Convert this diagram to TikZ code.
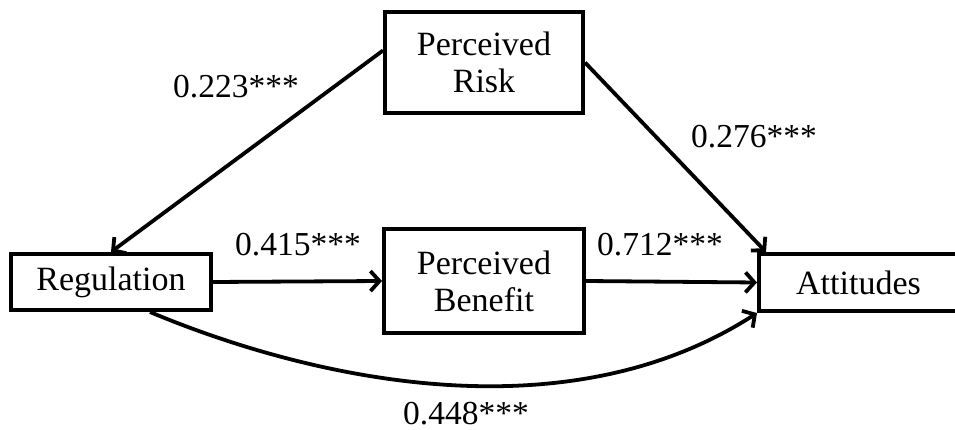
\documentclass[tikz,border=0pt]{standalone}
\usepackage{fontspec}
\setmainfont{Liberation Serif}
\usepackage{tikz}
\usetikzlibrary{arrows.meta}

\begin{document}
\begin{tikzpicture}[x=1pt,y=-1pt,
		box/.style={draw,line width=4pt,inner sep=0pt,align=center,font=\fontsize{34}{37}\selectfont},
		coef/.style={anchor=base,inner sep=0pt,font=\fontsize{33.5}{37}\selectfont},
		path/.style={line width=3.8pt,-{Straight Barb[length=9pt,width=20pt]}}]
			\useasboundingbox (0,0) rectangle (955,430);

				% variables
				\node[box,minimum width=200pt,minimum height=56pt] (reg) at(111,282){Regulation};
				\node[box,minimum width=198pt,minimum height=101pt] (risk) at(484,62.5){Perceived\\Risk};
				\node[box,minimum width=200pt,minimum height=103pt] (ben) at(484,281){Perceived\\Benefit};
				\node[box,minimum width=199pt,minimum height=57pt] (att) at(858.5,282.5){Attitudes};

				% paths
				\draw[path] ([yshift=12pt]risk.west) -- (reg.north);
				\draw[path] (risk.east) -- ([xshift=9pt]att.north west);
				\draw[path] (reg.east) -- (ben.west);
				\draw[path] (ben.east) -- (att.west);
				\draw[path] ([xshift=141pt]reg.south west) .. controls (300,375) and (560,440) .. (att.south west);

				% coefficients
				\node[coef] (c1) at(236,98){0.223***};
				\node[coef] (c2) at(754,148){0.276***};
				\node[coef] (c3) at(298,256){0.415***};
				\node[coef] (c4) at(660,255){0.712***};
				\node[coef] (c5) at(466,424){0.448***};

		\end{tikzpicture}
\end{document}
